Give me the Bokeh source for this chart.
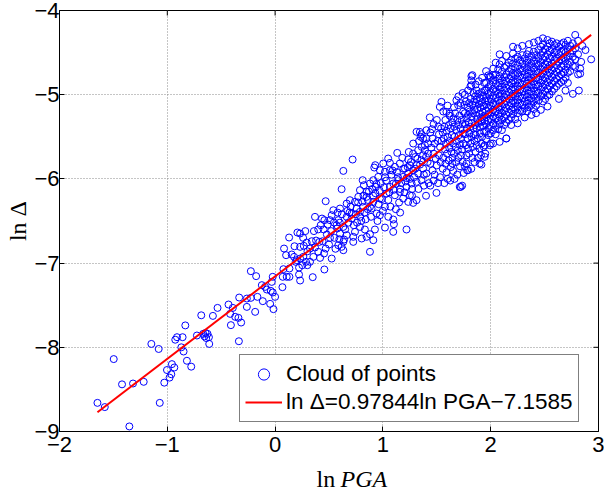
import numpy as np
from bokeh.plotting import figure
from bokeh.layouts import column
from bokeh.models import Legend, LegendItem, FixedTicker
from bokeh.core.properties import value
from bokeh.embed import file_html
from bokeh.resources import INLINE

# ---- data: (ln PGA, ln Delta) pairs --------------------------------------
# low-PGA tail of the cloud
tail_pts = [
    (-1.648, -8.66), (-1.580, -8.71), (-1.497, -8.14), (-1.420, -8.44), (-1.318, -8.43),
    (-1.352, -8.94), (-1.219, -8.41), (-1.148, -7.96), (-1.080, -8.02), (-1.070, -8.66),
    (-1.028, -8.42), (-1.003, -8.27), (-0.979, -8.36), (-0.963, -8.32), (-0.957, -8.20),
    (-0.935, -8.24), (-0.926, -7.91), (-0.910, -7.88), (-0.858, -7.88), (-0.870, -8.00),
    (-0.849, -8.05), (-0.833, -7.74), (-0.818, -8.16), (-0.778, -8.23), (-0.725, -7.86),
    (-0.685, -7.62), (-0.667, -7.84), (-0.655, -7.87), (-0.645, -7.83), (-0.639, -7.89),
    (-0.627, -7.84), (-0.614, -7.88), (-0.611, -7.96),
]

# around ln PGA = -0.6 ... 0.6
low_pts = [
    (0.207, -6.637), (0.232, -6.649), (0.130, -6.696), (0.370, -6.451), (0.435, -6.471),
    (0.457, -6.490), (0.509, -6.490), (0.546, -6.518), (0.586, -6.490), (0.423, -6.550),
    (0.488, -6.542), (0.577, -6.589), (0.509, -6.700), (0.596, -6.716), (0.586, -6.787),
    (0.083, -6.827), (0.102, -6.906), (0.154, -6.898), (0.232, -6.807), (0.266, -6.795),
    (0.293, -6.756), (0.340, -6.740), (0.380, -6.732), (0.411, -6.748), (0.324, -6.827),
    (0.370, -6.815), (0.401, -6.866), (0.469, -6.827), (0.454, -6.886), (0.417, -6.938),
    (0.525, -6.946), (0.176, -6.926), (0.201, -6.965), (0.232, -6.946), (0.262, -6.926),
    (0.287, -6.985), (0.299, -7.025), (0.253, -7.025), (0.222, -7.053), (0.324, -6.985),
    (0.355, -6.926), (0.133, -7.064), (0.077, -7.072), (0.191, -6.985), (0.108, -7.163),
    (0.133, -7.163), (0.071, -7.163), (0.222, -7.136), (0.232, -7.207), (0.349, -7.167),
    (0.457, -7.076), (0.068, -7.286), (-0.022, -7.163), (-0.031, -7.223), (-0.022, -7.349),
    (-0.093, -7.282), (-0.123, -7.262), (-0.164, -7.401), (-0.225, -7.096), (-0.176, -7.155),
    (-0.333, -7.409), (-0.262, -7.421), (-0.225, -7.413), (-0.185, -7.579), (-0.114, -7.452),
    (-0.046, -7.484), (-0.015, -7.547), (0.000, -7.401), (-0.077, -7.314), (-0.040, -7.330),
    (-0.262, -7.520), (-0.340, -7.650), (-0.315, -7.706), (-0.410, -7.737), (-0.432, -7.492),
    (-0.392, -7.532), (-0.417, -7.603), (-0.534, -7.532), (-0.577, -7.627), (-0.336, -7.928),
    (-0.370, -7.638), (0.40, -6.60), (0.44, -6.74), (0.30, -6.86), (0.26, -6.70),
    (0.36, -6.62), (0.18, -6.80), (0.28, -6.62), (0.45, -6.60), (0.48, -6.66), (0.52, -6.62),
    (0.55, -6.70), (0.57, -6.55), (0.50, -6.78), (0.56, -6.83),
]

# around ln PGA = 0.5 ... 1.45
mid_pts = [
    (0.719, -5.770), (0.633, -5.905), (0.617, -6.122), (0.469, -6.265), (0.812, -6.015),
    (0.824, -6.075), (0.929, -5.837), (0.920, -5.865), (1.003, -5.817), (1.049, -5.758),
    (1.065, -5.810), (1.133, -5.691), (1.235, -5.770), (1.281, -5.580), (1.312, -5.441),
    (1.358, -5.469), (1.404, -5.521), (1.389, -5.600), (1.327, -5.659), (1.373, -5.719),
    (1.420, -5.699), (1.358, -5.778), (1.312, -5.837), (1.250, -5.837), (1.204, -5.877),
    (1.157, -5.817), (1.111, -5.857), (1.065, -5.897), (1.019, -5.916), (0.972, -5.897),
    (0.957, -5.976), (0.911, -6.015), (0.935, -6.095), (0.880, -6.055), (0.849, -6.154),
    (0.787, -6.134), (0.849, -6.213), (0.772, -6.213), (0.741, -6.273), (0.694, -6.253),
    (0.664, -6.293), (0.602, -6.352), (0.540, -6.372), (0.525, -6.431), (0.633, -6.570),
    (0.664, -6.451), (0.710, -6.411), (0.756, -6.352), (0.787, -6.391), (0.818, -6.332),
    (0.880, -6.332), (0.911, -6.273), (0.972, -6.233), (1.019, -6.332), (0.941, -6.411),
    (0.895, -6.352), (0.972, -6.431), (1.034, -6.174), (1.065, -6.095), (1.096, -6.055),
    (1.142, -6.015), (1.188, -5.976), (1.235, -5.936), (1.281, -5.897), (1.327, -5.936),
    (1.373, -5.877), (1.404, -5.936), (1.358, -6.015), (1.312, -6.035), (1.266, -6.055),
    (1.219, -6.095), (1.157, -6.154), (1.188, -6.233), (1.235, -6.273), (1.281, -6.285),
    (1.312, -6.253), (1.250, -6.194), (1.111, -6.194), (1.096, -6.482), (1.102, -6.538),
    (1.019, -6.578), (1.096, -6.629), (1.219, -6.601), (0.926, -6.601), (0.880, -6.657),
    (0.833, -6.601), (0.787, -6.570), (0.741, -6.629), (0.725, -6.688), (0.664, -6.668),
    (0.602, -6.649), (0.633, -6.748), (0.617, -6.807), (0.633, -6.847), (0.880, -6.866),
    (0.725, -6.748), (0.803, -6.708), (0.849, -6.688), (0.911, -6.728),
    (1.02, -5.98), (1.08, -5.95), (1.13, -5.92), (1.17, -6.05), (1.22, -5.99), (1.26, -5.80),
    (1.10, -6.13), (1.05, -6.25), (1.15, -6.28), (1.20, -6.16), (1.27, -6.12), (0.98, -6.05),
    (0.93, -6.17), (0.96, -6.30), (1.00, -6.38), (1.12, -6.36), (1.24, -5.68), (1.18, -5.75),
    (1.29, -5.98), (0.90, -6.12), (0.86, -6.25), (0.82, -6.20), (0.79, -6.45), (0.84, -6.48),
    (0.70, -6.33), (0.76, -6.52), (0.68, -6.52), (0.95, -6.50), (1.05, -6.45), (1.16, -6.40),
    (1.335, -5.55), (1.39, -5.66), (1.345, -5.83), (1.415, -5.80), (1.30, -5.74),
    (1.38, -5.95), (1.425, -6.05), (1.33, -6.12), (1.40, -6.20), (1.35, -5.50),
    (0.62, -6.42), (0.65, -6.60), (0.67, -6.38), (0.71, -6.47), (0.73, -6.55), (0.75, -6.42),
    (0.77, -6.28), (0.80, -6.50), (0.81, -6.27), (0.83, -6.40), (0.86, -6.36), (0.87, -6.15),
    (0.89, -6.45), (0.91, -6.20), (0.94, -6.06), (0.97, -6.14), (0.99, -6.24), (1.01, -6.10),
    (1.03, -6.02), (1.06, -6.16), (1.07, -6.33), (1.09, -5.90), (1.12, -6.06), (1.14, -5.98),
    (1.16, -6.12), (1.19, -5.88), (1.21, -6.03), (1.23, -5.86), (1.25, -6.00), (1.28, -5.70),
    (1.30, -5.88), (1.32, -5.76), (1.36, -5.62), (1.40, -5.74), (1.42, -5.58), (1.38, -6.08),
    (1.27, -6.20), (0.69, -6.40), (0.60, -6.52), (0.64, -6.72), (0.58, -6.40),
]

# ln PGA = 1.43 ... 1.95
upper_pts = [
    (1.435, -5.27), (1.528, -5.145), (1.543, -5.085), (1.47, -5.35), (1.50, -5.30),
    (1.44, -5.45), (1.46, -5.52), (1.48, -5.58), (1.45, -5.63), (1.52, -5.47), (1.51, -5.55),
    (1.53, -5.62), (1.47, -5.70), (1.49, -5.76), (1.54, -5.40), (1.44, -5.82), (1.52, -5.72),
    (1.50, -5.84), (1.46, -5.90), (1.535, -5.80), (1.48, -5.95), (1.545, -5.55),
    (1.455, -5.41), (1.515, -5.38), (1.497, -6.166), (1.512, -6.05), (1.44, -6.08),
    (1.53, -5.98), (1.47, -6.02),
    (1.56, -5.20), (1.60, -5.13), (1.62, -5.25), (1.58, -5.30), (1.555, -5.45), (1.57, -5.38),
    (1.59, -5.43), (1.61, -5.36), (1.63, -5.40), (1.645, -5.33), (1.565, -5.52), (1.585, -5.58),
    (1.60, -5.50), (1.62, -5.55), (1.64, -5.48), (1.575, -5.65), (1.595, -5.70), (1.615, -5.63),
    (1.635, -5.68), (1.65, -5.58), (1.56, -5.75), (1.58, -5.82), (1.61, -5.78), (1.63, -5.86),
    (1.645, -5.75), (1.59, -5.92), (1.555, -5.88), (1.651, -5.905), (1.645, -5.817),
    (1.60, -6.00), (1.57, -6.05), (1.625, -6.02),
    (1.682, -5.066), (1.66, -5.15), (1.70, -5.02), (1.72, -5.10), (1.74, -4.98),
    (1.655, -5.28), (1.67, -5.22), (1.69, -5.30), (1.71, -5.25), (1.73, -5.30), (1.745, -5.20),
    (1.66, -5.38), (1.68, -5.42), (1.70, -5.36), (1.72, -5.40), (1.74, -5.35), (1.665, -5.50),
    (1.685, -5.55), (1.705, -5.48), (1.725, -5.52), (1.745, -5.46), (1.675, -5.62),
    (1.695, -5.66), (1.715, -5.60), (1.735, -5.65), (1.66, -5.70), (1.70, -5.75),
    (1.725, -5.72), (1.745, -5.58), (1.68, -5.80), (1.715, -5.85), (1.74, -5.80),
    (1.722, -6.095), (1.735, -6.08), (1.69, -5.95), (1.75, -5.93), (1.665, -6.00),
    (1.82, -4.83), (1.812, -4.90), (1.83, -4.768), (1.76, -5.00), (1.79, -4.95), (1.84, -4.98),
    (1.755, -5.12), (1.77, -5.08), (1.785, -5.15), (1.80, -5.10), (1.815, -5.05), (1.83, -5.12),
    (1.845, -5.08), (1.76, -5.22), (1.775, -5.28), (1.79, -5.24), (1.805, -5.20), (1.82, -5.26),
    (1.835, -5.22), (1.85, -5.18), (1.765, -5.35), (1.78, -5.40), (1.795, -5.33), (1.81, -5.38),
    (1.825, -5.34), (1.84, -5.40), (1.76, -5.47), (1.785, -5.52), (1.80, -5.46), (1.82, -5.50),
    (1.845, -5.47), (1.77, -5.60), (1.79, -5.64), (1.815, -5.58), (1.835, -5.62), (1.85, -5.55),
    (1.775, -5.72), (1.80, -5.70), (1.83, -5.75), (1.781, -5.897), (1.76, -5.85),
    (1.82, -5.88), (1.85, -5.80),
    (1.86, -4.88), (1.89, -4.84), (1.92, -4.80), (1.94, -4.86), (1.87, -4.95),
    (1.855, -5.02), (1.87, -5.06), (1.885, -4.99), (1.90, -5.04), (1.915, -4.97), (1.93, -5.01),
    (1.945, -4.95), (1.86, -5.13), (1.875, -5.17), (1.89, -5.11), (1.905, -5.15), (1.92, -5.09),
    (1.935, -5.13), (1.95, -5.07), (1.865, -5.25), (1.88, -5.29), (1.895, -5.23), (1.91, -5.27),
    (1.925, -5.21), (1.94, -5.25), (1.855, -5.36), (1.87, -5.40), (1.885, -5.34), (1.90, -5.38),
    (1.915, -5.32), (1.93, -5.37), (1.945, -5.31), (1.86, -5.48), (1.88, -5.52), (1.90, -5.46),
    (1.92, -5.50), (1.94, -5.44), (1.87, -5.60), (1.895, -5.64), (1.915, -5.58), (1.935, -5.62),
    (1.91, -5.72), (1.914, -5.83), (1.88, -5.75), (1.95, -5.70), (1.86, -5.68),
    (1.821, -4.78), (1.821, -4.887), (1.991, -4.788), (2.022, -4.768), (1.620, -5.224),
    (1.589, -5.204), (1.698, -5.125), (1.343, -5.442), (1.404, -5.422), (1.373, -5.52),
    (1.713, -6.095), (1.790, -5.897), (1.775, -5.818), (1.898, -5.818), (1.944, -5.738),
    (1.991, -5.60), (2.022, -5.58), (2.145, -5.52), (2.083, -5.56), (1.944, -5.60),
]

# high-PGA core, one column of ln Delta values per ln PGA
core_pga = [
    1.957, 1.978, 2.001, 2.024, 2.046, 2.069, 2.083, 2.104, 2.126, 2.145, 2.168, 2.190,
    2.207, 2.228, 2.250, 2.272, 2.293, 2.315, 2.337, 2.355, 2.378, 2.400, 2.421, 2.443,
    2.465, 2.484, 2.506, 2.527, 2.546, 2.568, 2.590, 2.612, 2.633, 2.655, 2.676, 2.694,
    2.716, 2.738, 2.762, 2.784, 2.810, 2.818, 2.830, 2.839, 2.850, 2.879, 2.932,
]
core_delta = [
    [-4.72, -4.86, -4.95, -5.04, -5.12, -5.19, -5.27, -5.35, -5.44, -5.53],
    [-4.77, -4.91, -4.99, -5.08, -5.16, -5.23, -5.31, -5.40, -5.48],
    [-4.79, -4.88, -4.97, -5.05, -5.13, -5.21, -5.29, -5.37, -5.46, -5.58],
    [-4.69, -4.83, -4.93, -5.01, -5.10, -5.18, -5.26, -5.34, -5.42],
    [-4.62, -4.76, -4.87, -4.96, -5.04, -5.12, -5.20, -5.28, -5.37, -5.47],
    [-4.70, -4.81, -4.90, -4.99, -5.07, -5.15, -5.23, -5.31, -5.41],
    [-4.52, -4.64, -4.78, -4.86, -4.94, -5.02, -5.10, -5.18, -5.26, -5.35],
    [-4.60, -4.73, -4.83, -4.91, -4.99, -5.06, -5.14, -5.22, -5.30, -5.42],
    [-4.68, -4.79, -4.87, -4.95, -5.03, -5.11, -5.19, -5.27, -5.36],
    [-4.54, -4.66, -4.76, -4.84, -4.92, -5.00, -5.08, -5.16, -5.24, -5.33, -5.52],
    [-4.62, -4.72, -4.81, -4.89, -4.97, -5.05, -5.13, -5.21, -5.30],
    [-4.59, -4.69, -4.78, -4.86, -4.94, -5.02, -5.10, -5.18, -5.27, -5.36],
    [-4.43, -4.51, -4.63, -4.74, -4.83, -4.91, -4.99, -5.07, -5.15, -5.23],
    [-4.57, -4.68, -4.77, -4.86, -4.94, -5.02, -5.10, -5.18, -5.29],
    [-4.45, -4.55, -4.65, -4.74, -4.82, -4.90, -4.98, -5.06, -5.14, -5.22, -5.34],
    [-4.59, -4.69, -4.78, -4.86, -4.94, -5.02, -5.10, -5.19],
    [-4.42, -4.53, -4.63, -4.72, -4.80, -4.88, -4.96, -5.04, -5.12, -5.20],
    [-4.57, -4.67, -4.76, -4.84, -4.92, -5.00, -5.08, -5.16, -5.27],
    [-4.52, -4.62, -4.71, -4.79, -4.87, -4.95, -5.03, -5.11, -5.20],
    [-4.40, -4.48, -4.58, -4.67, -4.75, -4.83, -4.91, -4.99, -5.07, -5.15],
    [-4.54, -4.63, -4.72, -4.80, -4.88, -4.96, -5.04, -5.12, -5.24],
    [-4.38, -4.49, -4.59, -4.68, -4.76, -4.84, -4.92, -5.00, -5.08, -5.17],
    [-4.53, -4.63, -4.72, -4.80, -4.88, -4.96, -5.04, -5.13, -5.22],
    [-4.36, -4.47, -4.57, -4.66, -4.74, -4.82, -4.90, -4.98, -5.07],
    [-4.43, -4.53, -4.62, -4.70, -4.78, -4.86, -4.94, -5.02, -5.18],
    [-4.33, -4.40, -4.49, -4.58, -4.67, -4.75, -4.83, -4.91, -4.99, -5.08],
    [-4.46, -4.55, -4.64, -4.72, -4.80, -4.88, -4.96, -5.05],
    [-4.35, -4.43, -4.52, -4.61, -4.69, -4.77, -4.85, -4.93, -5.01, -5.14],
    [-4.39, -4.48, -4.57, -4.66, -4.74, -4.82, -4.90, -5.00],
    [-4.37, -4.46, -4.55, -4.63, -4.71, -4.79, -4.87, -4.96],
    [-4.41, -4.50, -4.59, -4.68, -4.76, -4.84, -4.93],
    [-4.39, -4.48, -4.57, -4.65, -4.73, -4.81, -4.90],
    [-4.43, -4.52, -4.61, -4.70, -4.78, -4.87, -5.05],
    [-4.40, -4.49, -4.58, -4.67, -4.76, -4.85],
    [-4.38, -4.47, -4.56, -4.65, -4.74, -4.83],
    [-4.41, -4.50, -4.60, -4.70, -4.80, -4.95],
    [-4.36, -4.46, -4.55, -4.64, -4.74, -4.86],
    [-4.42, -4.51, -4.61, -4.72],
    [-4.39, -4.48, -4.55, -4.66, -4.99],
    [-4.29, -4.45, -4.58, -4.67],
    [-4.36, -4.52, -4.76],
    [-4.95],
    [-4.69, -4.75],
    [-4.61],
    [-4.42],
    [-4.47],
    [-4.58],
]

# fitted relation shown in the legend
SLOPE = 0.97844
INTERCEPT = -7.1585

x_ticks = [-2, -1, 0, 1, 2, 3]
x_tick_labels = ["\u22122", "\u22121", "0", "1", "2", "3"]
y_ticks = [-9, -8, -7, -6, -5, -4]
y_tick_labels = ["\u22129", "\u22128", "\u22127", "\u22126", "\u22125", "\u22124"]
legend_labels = ["Cloud of points", "ln \u0394=0.97844ln PGA\u22127.1585"]
x_title = ["ln", "PGA"]
y_title = "ln \u0394"

# ---- assemble the point cloud --------------------------------------------
pairs = tail_pts + low_pts + mid_pts + upper_pts
for xv, col in zip(core_pga, core_delta):
    pairs += [(xv, yv) for yv in col]
pga = np.array([q[0] for q in pairs])
delta = np.array([q[1] for q in pairs])

fit_x = np.array([pga.min(), pga.max()])
fit_y = SLOPE * fit_x + INTERCEPT

# ---- main axes -----------------------------------------------------------
SANS = "Liberation Sans"
SERIF = "Liberation Serif"
X0, X1, Y0, Y1 = -2, 3, -9, -4
FRAME_W, FRAME_H = 539, 421

p = figure(width=604, height=462, x_range=(X0, X1), y_range=(Y0, Y1),
           output_backend="svg", toolbar_location=None,
           min_border_left=59, min_border_right=6, min_border_top=10,
           min_border_bottom=31, background_fill_color="white",
           border_fill_color="white")
p.outline_line_color = "black"
p.outline_line_width = 1

for ax, ticks, labels in ((p.xaxis[0], x_ticks, x_tick_labels),
                          (p.yaxis[0], y_ticks, y_tick_labels)):
    ax.ticker = FixedTicker(ticks=ticks)
    ax.major_label_overrides = dict(zip(ticks, labels))
    ax.major_tick_in = 5
    ax.major_tick_out = 0
    ax.minor_tick_in = 0
    ax.minor_tick_out = 0
    ax.axis_line_color = "black"
    ax.major_tick_line_color = "black"
    ax.major_label_text_font = SANS
    ax.major_label_text_font_size = "22px"
    ax.major_label_text_color = "black"
p.xaxis.major_label_standoff = 5
p.yaxis.major_label_standoff = 0

p.yaxis.axis_label = y_title
p.yaxis.axis_label_text_font = SERIF
p.yaxis.axis_label_text_font_style = "normal"
p.yaxis.axis_label_text_font_size = "24px"
p.yaxis.axis_label_text_color = "black"
p.yaxis.axis_label_standoff = 0

for g, ticks in ((p.xgrid[0], x_ticks), (p.ygrid[0], y_ticks)):
    g.ticker = FixedTicker(ticks=ticks)
    g.grid_line_color = "#8a8a8a"
    g.grid_line_dash = "1 2"
    g.grid_line_width = 1

# inward tick marks along the top and right edges of the box (5 px long)
tick_dx = 5 * (X1 - X0) / FRAME_W
tick_dy = 5 * (Y1 - Y0) / FRAME_H
p.segment(x0=x_ticks, y0=[Y1] * len(x_ticks), x1=x_ticks, y1=[Y1 - tick_dy] * len(x_ticks),
          line_color="black", line_width=1)
p.segment(x0=[X1] * len(y_ticks), y0=y_ticks, x1=[X1 - tick_dx] * len(y_ticks), y1=y_ticks,
          line_color="black", line_width=1)

cloud = p.scatter(pga, delta, marker="circle", size=7, fill_color=None,
                  line_color="#0000ff", line_width=1)
fit = p.line(fit_x, fit_y, line_color="#ff0000", line_width=2)

legend = Legend(items=[LegendItem(label=legend_labels[0], renderers=[cloud]),
                       LegendItem(label=legend_labels[1], renderers=[fit])],
                location=(180, 9), orientation="vertical",
                label_text_font=SANS, label_text_font_size="22.5px",
                label_text_color="black", glyph_width=37, glyph_height=28,
                label_height=28, label_standoff=4, padding=5, spacing=0, margin=0,
                border_line_color="black", border_line_width=1,
                background_fill_color="white", background_fill_alpha=1.0)
p.add_layout(legend)

# ---- x-axis title: upright "ln", italic "PGA" (pixel-unit strip) ---------
xlab = figure(width=604, height=26, x_range=(0, 604), y_range=(0, 26), title=None,
              x_axis_type=None, y_axis_type=None, output_backend="svg",
              toolbar_location=None, min_border=0, outline_line_color=None,
              background_fill_color="white", border_fill_color="white")
xlab.grid.visible = False
xlab.text(x=[309], y=[10], text=[x_title[0]], text_align="right",
          text_baseline="alphabetic", text_font=value(SERIF),
          text_font_size=value("24px"), text_color="black")
xlab.text(x=[315], y=[10], text=[x_title[1]], text_align="left",
          text_baseline="alphabetic", text_font=value(SERIF), text_font_style="italic",
          text_font_size=value("24px"), text_color="black")

layout = column(p, xlab, spacing=0)

open("out.html", "w").write(file_html(layout, INLINE))
